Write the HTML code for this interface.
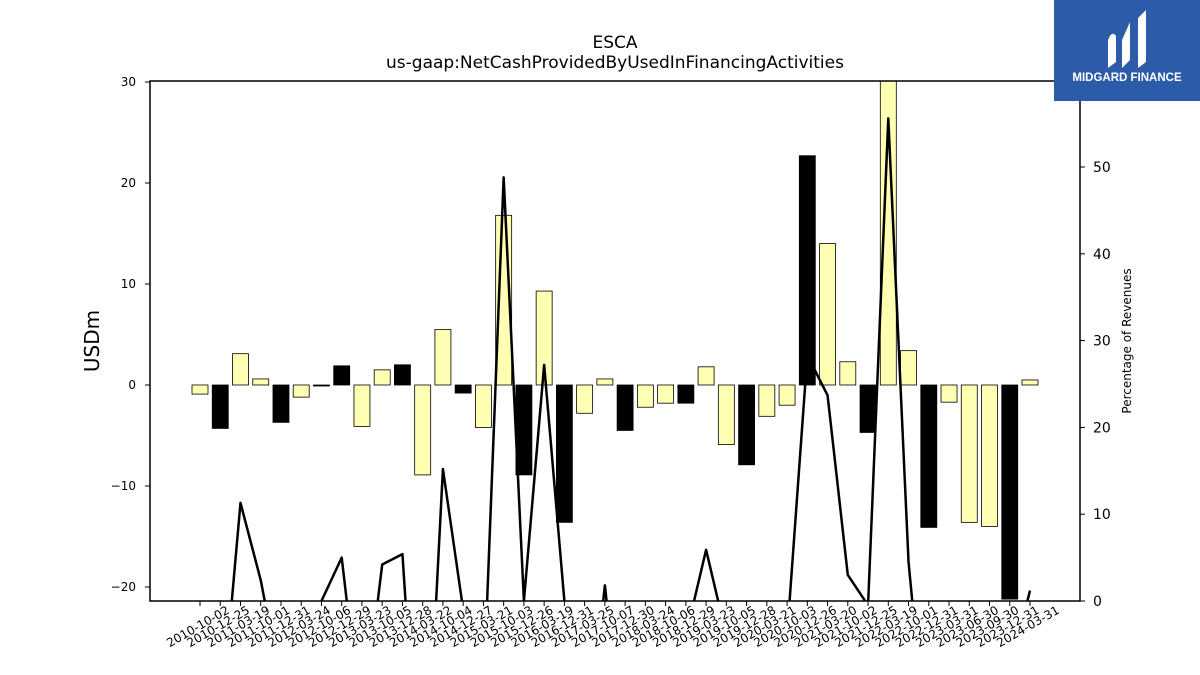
<!DOCTYPE html>
<html><head><meta charset="utf-8"><style>
html,body{margin:0;padding:0;background:#fff;overflow:hidden;width:1200px;height:675px}
svg{display:block}
svg text{font-family:"DejaVu Sans","Liberation Sans",sans-serif}
</style></head><body>
<svg id="c" width="1200" height="675" viewBox="0 0 1200 675">
<defs><clipPath id="pc"><rect x="150" y="81" width="930" height="520"/></clipPath></defs>
<rect width="1200" height="675" fill="#fff"/>
<text x="615" y="48" text-anchor="middle" font-size="17">ESCA</text>
<text x="615" y="68" text-anchor="middle" font-size="17">us-gaap:NetCashProvidedByUsedInFinancingActivities</text>
<g id="bars" clip-path="url(#pc)"></g>
<g id="line" clip-path="url(#pc)"></g>
<rect x="150" y="81" width="930" height="520" fill="none" stroke="#000" stroke-width="1.5"/>
<g id="axes"></g>
<text transform="translate(99,341) rotate(-90)" text-anchor="middle" font-size="20">USDm</text>
<text transform="translate(1131,341) rotate(-90)" text-anchor="middle" font-size="12">Percentage of Revenues</text>
<g>
<rect x="1054" y="0" width="146" height="101" fill="#2b5ba9"/>
<path d="M1108 68 L1108 40 Q1112 30 1116 36 L1116 62 Z M1122 40 L1130 22 L1130 60 L1122 68 Z M1138 18 L1146 10 L1146 62 L1138 68 Z" fill="#fff"/>
<text x="1127" y="81" text-anchor="middle" font-size="11.5" font-weight="bold" fill="#fff" style="font-family:'Liberation Sans',sans-serif">MIDGARD FINANCE</text>
</g>
</svg>
<script>
const categories=["2010-10-02","2010-12-25","2011-03-19","2011-10-01","2011-12-31","2012-03-24","2012-10-06","2012-12-29","2013-03-23","2013-10-05","2013-12-28","2014-03-22","2014-10-04","2014-12-27","2015-03-21","2015-10-03","2015-12-26","2016-03-19","2016-12-31","2017-03-25","2017-10-07","2017-12-30","2018-03-24","2018-10-06","2018-12-29","2019-03-23","2019-10-05","2019-12-28","2020-03-21","2020-10-03","2020-12-26","2021-03-20","2021-10-02","2021-12-25","2022-03-19","2022-10-01","2022-12-31","2023-03-31","2023-06-30","2023-09-30","2023-12-31","2024-03-31"];
const cashFlow=[-0.9,-4.3,3.1,0.6,-3.7,-1.2,-0.1,1.9,-4.1,1.5,2.0,-8.9,5.5,-0.8,-4.2,16.8,-8.9,9.3,-13.6,-2.8,0.6,-4.5,-2.2,-1.8,-1.8,1.8,-5.9,-7.9,-3.1,-2.0,22.7,14.0,2.3,-4.7,30.5,3.4,-14.1,-1.7,-13.6,-14.0,-21.2,0.5];
const isDark=[0,1,0,0,1,0,1,1,0,0,1,0,0,1,0,0,1,0,1,0,0,1,0,0,1,0,0,1,0,0,1,0,0,1,0,0,1,0,0,0,1,0];
const pctRevenue=[-20,-15,11.3,2.4,-9.7,-10,0,5.0,-15,4.2,5.4,-30,15.2,-1,-11,48.8,0,27.2,0,-20,1.8,-20,-20,-20,-4,5.9,-4,-20,-20,-4,28.3,23.7,3.0,-0.5,55.6,4.5,-20,-20,-20,-20,-8,1.2];
const yTicks=[-20,-10,0,10,20,30];
const y2Ticks=[0,10,20,30,40,50];
const NS="http://www.w3.org/2000/svg";
const x=i=>200+i*(830/41);
const y=v=>385-v*10.1;
const y2=v=>601-v*8.68;
function mk(t,a,p){const e=document.createElementNS(NS,t);for(const k in a)e.setAttribute(k,a[k]);p.appendChild(e);return e;}
const bars=document.getElementById('bars'),line=document.getElementById('line'),axes=document.getElementById('axes');
cashFlow.forEach((v,i)=>{
 const r=mk('rect',{x:x(i)-8,y:Math.min(y(v),y(0)),width:16,height:Math.abs(y(v)-y(0)),fill:isDark[i]?'#000':'#ffffb3',stroke:'#000','stroke-width':0.8},bars);
 
 
});
const pl=mk('polyline',{points:pctRevenue.map((v,i)=>x(i)+','+y2(v)).join(' '),fill:'none',stroke:'#000','stroke-width':2.5,'stroke-linejoin':'round'},line);


yTicks.forEach(t=>{
 mk('line',{x1:145,x2:150,y1:y(t),y2:y(t),stroke:'#000'},axes);
 const tx=mk('text',{x:136,y:y(t)+4,'text-anchor':'end','font-size':12},axes);tx.textContent=t<0?'−'+(-t):t;
 
 
});
y2Ticks.forEach(t=>{
 mk('line',{x1:1080,x2:1085,y1:y2(t),y2:y2(t),stroke:'#000'},axes);
 const tx=mk('text',{x:1093,y:y2(t)+5,'font-size':14},axes);tx.textContent=t;
 
 
});
categories.forEach((c,i)=>{
 mk('line',{x1:x(i),x2:x(i),y1:601,y2:606,stroke:'#000'},axes);
 const tx=mk('text',{transform:`translate(${x(i)},${630}) rotate(-30)`,'text-anchor':'middle','font-size':12},axes);tx.textContent=c;
 
 
});
</script>
</body></html>
